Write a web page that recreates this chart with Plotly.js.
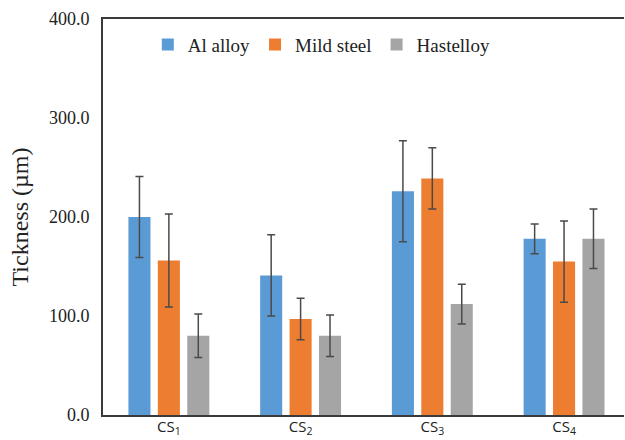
<!DOCTYPE html>
<html>
<head>
<meta charset="utf-8">
<script src="https://cdn.plot.ly/plotly-3.0.1.min.js"></script>
<style>html,body{margin:0;padding:0;background:#fff;}#chart{width:625px;height:440px;}</style>
</head>
<body>
<div id="chart"></div>
<script>
var categories = ["CS1", "CS2", "CS3", "CS4"];
var tickLabels = ["CS<sub>1</sub>", "CS<sub>2</sub>", "CS<sub>3</sub>", "CS<sub>4</sub>"];
var seriesNames = ["Al alloy", "Mild steel", "Hastelloy"];
var alAlloy = [200, 141, 226, 178];
var alAlloyErr = [41, 41, 51, 15];
var mildSteel = [156, 97, 239, 155];
var mildSteelErr = [47, 21, 31, 41];
var hastelloy = [80, 80, 112, 178];
var hastelloyErr = [22, 21, 20, 30];
var colors = ["#5B9BD5", "#ED7D31", "#A5A5A5"];

var SERIF = "Liberation Serif";
var vals = [alAlloy, mildSteel, hastelloy];
var errs = [alAlloyErr, mildSteelErr, hastelloyErr];
var traces = vals.map(function(v, i) {
  return {
    type: "bar",
    name: seriesNames[i],
    x: categories,
    y: v,
    marker: {color: colors[i]},
    error_y: {type: "data", array: errs[i], visible: true, color: "#4a4a4a", thickness: 1.5, width: 4}
  };
});

var layout = {
  width: 625, height: 440,
  font: {family: SERIF, size: 18, color: "#222"},
  margin: {l: 103, r: 1, t: 19, b: 25},
  paper_bgcolor: "#fff", plot_bgcolor: "#fff",
  barmode: "group", bargap: 0.33, bargroupgap: 0.25,
  showlegend: true,
  legend: {
    orientation: "h", x: 0.086, xanchor: "left", y: 0.935, yanchor: "middle",
    font: {family: SERIF, size: 19, color: "#222"},
    bgcolor: "rgba(0,0,0,0)"
  },
  xaxis: {
    type: "category",
    range: [-0.5, 3.455],
    tickvals: categories, ticktext: tickLabels,
    showline: true, linecolor: "#3a3a3a", linewidth: 2, mirror: true,
    ticks: "", showgrid: false, zeroline: false, ticklabelstandoff: -3,
    tickfont: {family: "Open Sans", size: 15, color: "#222"}
  },
  yaxis: {
    range: [0, 400], tickvals: [0, 100, 200, 300, 400], tickformat: ".1f",
    showline: true, linecolor: "#3a3a3a", linewidth: 2,
    ticks: "", showgrid: false, zeroline: false, ticklabelstandoff: 8,
    tickfont: {family: SERIF, size: 18, color: "#222"},
    title: {text: "Tickness (µm)", standoff: 14, font: {family: SERIF, size: 24, color: "#222"}}
  }
};
Plotly.newPlot("chart", traces, layout, {staticPlot: true, displayModeBar: false});
</script>
</body>
</html>
